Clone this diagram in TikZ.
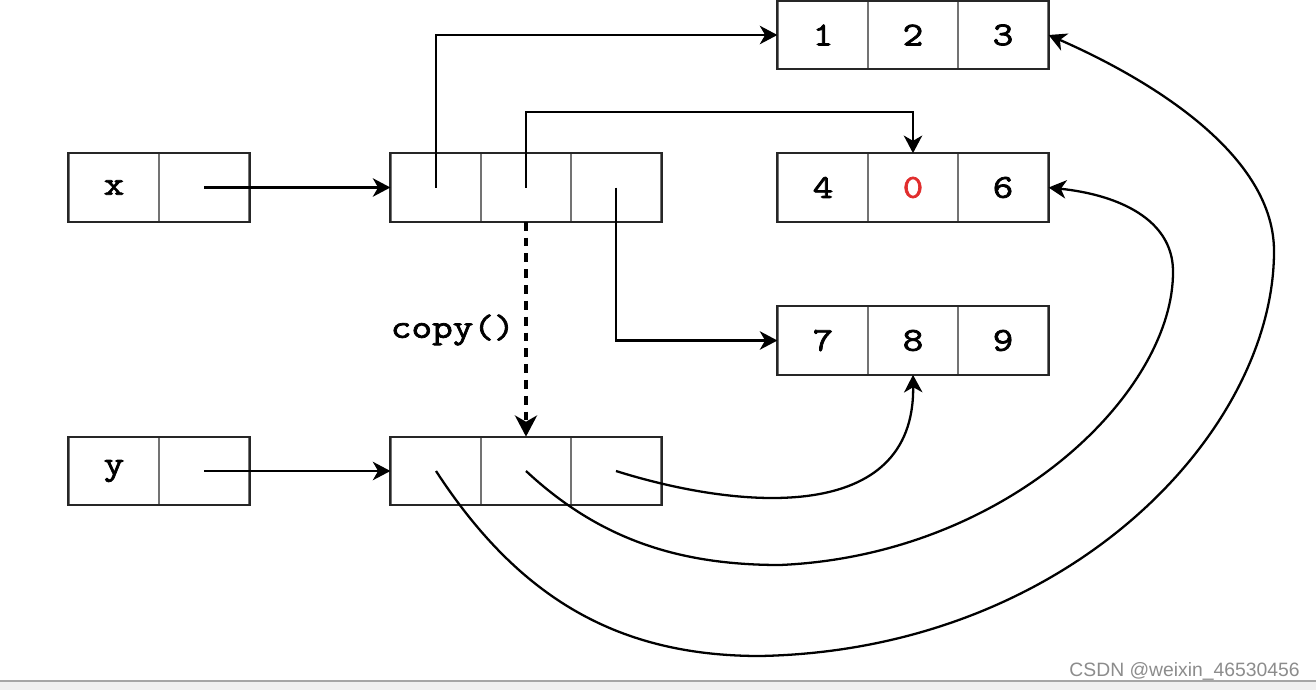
\documentclass[tikz,border=0pt]{standalone}
\usepackage{fontspec}
\newfontfamily\courfont[FakeStretch=1.2, FakeBold=2.2]{Latin Modern Mono}
\setsansfont{Liberation Sans}
\usetikzlibrary{arrows.meta}
\tikzset{
  cell/.style={draw=black!55, line width=0.7pt, minimum width=1.8cm, minimum height=1.35cm, inner sep=0pt,
    font=\courfont\fontsize{19}{21}\selectfont},
  frame/.style={draw=black!85, line width=1.2pt},
  link/.style={line width=1.3pt, -{Stealth[length=10pt,width=10.5pt,inset=3pt]}},
  dlink/.style={line width=2.2pt, dash pattern=on 5pt off 4pt, -{Stealth[length=12pt,width=12.5pt,inset=3.5pt]}},
}
\begin{document}
\begin{tikzpicture}[x=0.02cm,y=-0.02cm]
\useasboundingbox (0,0) rectangle (1316,690);
\fill[white] (0,0) rectangle (1316,690);
\fill[black!6] (0,681) rectangle (1316,690);
\draw[black!35, line width=0.8pt] (0,681) -- (1316,681);

% variable boxes
\node[cell] (xa) at (114,187.5) {x};
\node[cell] (xb) at (204,187.5) {};
\node[cell] (ya) at (114,471) {y};
\node[cell] (yb) at (204,471) {};
% outer lists
\node[cell] (X1) at (436,187.5) {};
\node[cell] (X2) at (526,187.5) {};
\node[cell] (X3) at (616,187.5) {};
\node[cell] (Y1) at (436,471) {};
\node[cell] (Y2) at (526,471) {};
\node[cell] (Y3) at (616,471) {};
% inner lists
\node[cell] (A1) at (823,35) {1};
\node[cell] (A2) at (913,35) {2};
\node[cell] (A3) at (1003,35) {3};
\node[cell] (B1) at (823,187.5) {4};
\node[cell] (B2) at (913,187.5) {\textcolor[RGB]{225,45,45}{0}};
\node[cell] (B3) at (1003,187.5) {6};
\node[cell] (C1) at (823,340.5) {7};
\node[cell] (C2) at (913,340.5) {8};
\node[cell] (C3) at (1003,340.5) {9};

\foreach \a/\b in {xa/xb, ya/yb, X1/X3, Y1/Y3, A1/A3, B1/B3, C1/C3}
  \draw[frame] (\a.north west) rectangle (\b.south east);

% copy label
\node[font=\courfont\fontsize{19}{21}\selectfont, anchor=east, inner sep=0pt] (cp) at (515,330) {copy()};

\coordinate (t2) at (526,112);

% connectors
\draw[link] (xb.center) -- (X1.west);
\draw[link] (yb.center) -- (Y1.west);
\draw[link] (X1.center) |- (A1.west);
\draw[link] (X2.center) -- (t2) -| (B2.north);
\draw[link] (X3.center) |- (C1.west);
\draw[dlink] (X2.south) -- (Y2.north);

\draw[link] (Y3.center) .. controls (740,510) and (915,525) .. (C2.south);
\draw[link] (Y2.center) .. controls (600,540) and (680,565) .. (780,565)
   .. controls (1010,555) and (1175,390) .. (1173,270)
   .. controls (1172,220) and (1120,195) .. (B3.east);
\draw[link] (Y1.center) .. controls (520,600) and (620,656) .. (760,656)
   .. controls (1070,650) and (1275,430) .. (1274,250)
   .. controls (1273,150) and (1140,75) .. (A3.east);

% watermark
\node[font=\sffamily\fontsize{11}{12}\selectfont, text=black!45, anchor=east, inner sep=0pt] (wm) at (1300,671) {CSDN @weixin\_46530456};
\end{tikzpicture}
\end{document}
